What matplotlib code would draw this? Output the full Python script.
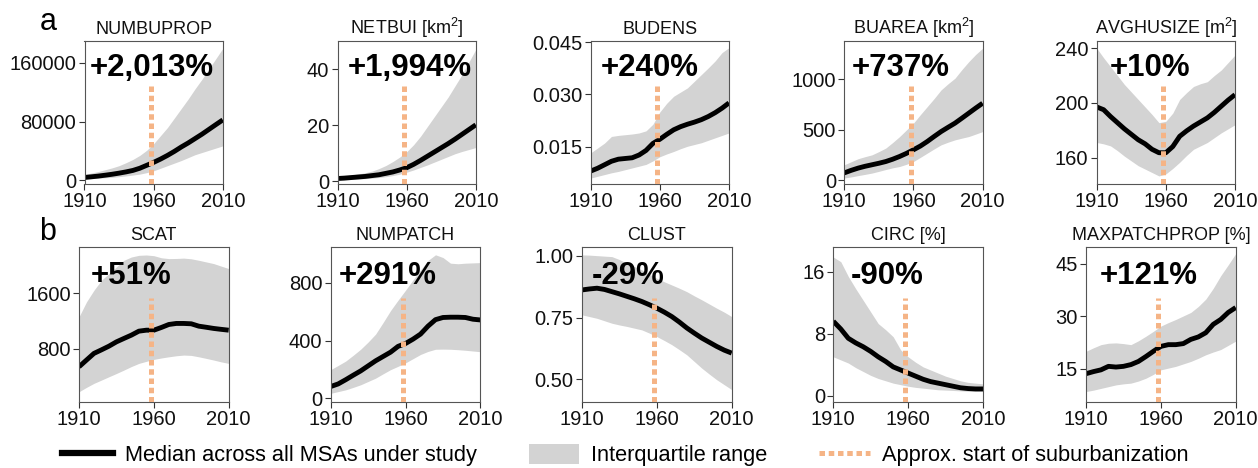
import matplotlib
matplotlib.use('Agg')
import matplotlib.pyplot as plt
from matplotlib.lines import Line2D
from matplotlib.patches import Patch
import numpy as np

plt.rcParams['font.family'] = ['Liberation Sans', 'DejaVu Sans']
plt.rcParams['mathtext.fontset'] = 'custom'
plt.rcParams['mathtext.rm'] = 'Liberation Sans'
plt.rcParams['mathtext.it'] = 'Liberation Sans:italic'

years = np.arange(1910, 2011, 5)
suburb_year = 1958

titles = ['NUMBUPROP', 'NETBUI [km$^2$]', 'BUDENS', 'BUAREA [km$^2$]', 'AVGHUSIZE [m$^2$]',
          'SCAT', 'NUMPATCH', 'CLUST', 'CIRC [%]', 'MAXPATCHPROP [%]']
changes = ['+2,013%', '+1,994%', '+240%', '+737%', '+10%',
           '+51%', '+291%', '-29%', '-90%', '+121%']

# median / lower quartile / upper quartile, every 5 years 1910-2010
numbuprop_med = [3900, 4800, 5800, 7000, 8300, 9800, 11500, 13500, 16500, 20500, 24500,
                 29000, 34000, 39500, 45500, 51000, 57000, 63000, 69500, 76000, 82400]
numbuprop_lo = [2000, 2500, 3000, 3500, 4000, 5000, 6000, 7200, 8500, 10500, 13000,
                16500, 20000, 23500, 27000, 31000, 35000, 38000, 41000, 44000, 47000]
numbuprop_hi = [8000, 10000, 12000, 14500, 17000, 20000, 24000, 28500, 34000, 41000, 50000,
                61000, 72000, 85000, 98000, 111000, 125000, 138000, 152000, 166000, 180000]

netbui_med = [0.96, 1.1, 1.3, 1.5, 1.7, 2.0, 2.3, 2.8, 3.3, 4.0, 4.8,
              6.0, 7.4, 8.9, 10.4, 11.9, 13.4, 15.0, 16.7, 18.4, 20.1]
netbui_lo = [0.5, 0.6, 0.7, 0.8, 0.9, 1.1, 1.3, 1.6, 2.0, 2.5, 3.2,
             4.0, 4.9, 5.8, 6.8, 7.8, 8.8, 9.8, 10.6, 11.3, 12.0]
netbui_hi = [1.5, 1.8, 2.2, 2.6, 3.0, 3.6, 4.5, 5.6, 7.0, 8.6, 10.5,
             13.0, 16.0, 19.5, 23.0, 26.5, 30.0, 34.0, 38.0, 42.5, 47.0]

budens_med = [0.0081, 0.0089, 0.0099, 0.0109, 0.0115, 0.0117, 0.0119, 0.0127, 0.0140, 0.0160, 0.0172,
              0.0186, 0.0199, 0.0208, 0.0215, 0.0221, 0.0228, 0.0237, 0.0248, 0.0261, 0.0276]
budens_lo = [0.0061, 0.0066, 0.0071, 0.0076, 0.0080, 0.0085, 0.0090, 0.0095, 0.0100, 0.0110, 0.0122,
             0.0130, 0.0137, 0.0145, 0.0152, 0.0157, 0.0162, 0.0169, 0.0176, 0.0183, 0.0190]
budens_hi = [0.0133, 0.0147, 0.0161, 0.0180, 0.0183, 0.0185, 0.0187, 0.0190, 0.0196, 0.0215, 0.0250,
             0.0275, 0.0295, 0.0307, 0.0319, 0.0338, 0.0357, 0.0376, 0.0396, 0.0420, 0.0434]

buarea_med = [75, 100, 122, 140, 155, 170, 187, 210, 237, 268, 303,
              340, 385, 435, 483, 525, 566, 615, 665, 715, 763]
buarea_lo = [24, 35, 48, 60, 73, 90, 108, 125, 138, 160, 187,
             228, 270, 312, 352, 378, 401, 418, 434, 458, 483]
buarea_hi = [155, 185, 215, 235, 253, 285, 320, 375, 434, 500, 566,
             650, 730, 810, 895, 955, 1010, 1095, 1174, 1245, 1306]

avghusize_med = [197, 195, 190, 185.5, 181, 177, 173, 170, 166, 163.5, 163.5,
                 168, 175.5, 179.5, 183, 186, 189, 193, 197.5, 202, 206]
avghusize_lo = [171, 170, 168.5, 165, 161, 157.5, 154, 151.5, 149, 146.5, 148,
                152, 156.5, 161.5, 166, 168.5, 171, 174.5, 178, 181, 184]
avghusize_hi = [240, 233, 226.5, 220, 213.5, 208, 202.5, 197, 191.5, 185.5, 186.5,
                192.5, 202.5, 207.5, 212, 214, 215.5, 220, 224, 229.5, 235]

scat_med = [541, 638, 734, 785, 838, 900, 949, 997, 1054, 1068, 1068,
            1107, 1150, 1165, 1165, 1160, 1126, 1110, 1093, 1080, 1068]
scat_lo = [182, 245, 303, 350, 398, 445, 494, 545, 590, 620, 648,
           668, 685, 700, 710, 705, 685, 662, 638, 612, 590]
scat_hi = [1260, 1475, 1643, 1787, 1883, 1978, 2074, 2121, 2145, 2150, 2140,
           2110, 2098, 2100, 2105, 2095, 2074, 2050, 2026, 1990, 1955]

numpatch_med = [82, 100, 129, 160, 190, 225, 260, 290, 320, 360, 380,
                410, 445, 500, 545, 560, 562, 562, 560, 548, 543]
numpatch_lo = [35, 47, 59, 76, 94, 117, 140, 170, 199, 222, 246,
               275, 304, 325, 340, 341, 340, 337, 333, 328, 323]
numpatch_hi = [199, 228, 258, 298, 340, 390, 445, 525, 608, 680, 749,
               820, 889, 955, 994, 975, 936, 932, 936, 938, 940]

clust_med = [0.862, 0.866, 0.869, 0.864, 0.855, 0.846, 0.836, 0.826, 0.815, 0.802, 0.788,
             0.772, 0.754, 0.732, 0.708, 0.687, 0.667, 0.650, 0.633, 0.618, 0.606]
clust_lo = [0.761, 0.754, 0.747, 0.737, 0.727, 0.720, 0.714, 0.707, 0.700, 0.687, 0.673,
            0.657, 0.640, 0.620, 0.599, 0.572, 0.545, 0.521, 0.498, 0.478, 0.458]
clust_hi = [1.004, 1.003, 1.001, 0.999, 0.997, 0.985, 0.970, 0.957, 0.943, 0.926, 0.909,
            0.895, 0.882, 0.869, 0.855, 0.838, 0.822, 0.805, 0.788, 0.772, 0.754]

circ_med = [9.6, 8.6, 7.4, 6.8, 6.3, 5.7, 5.0, 4.4, 3.7, 3.3, 2.9,
            2.5, 2.1, 1.8, 1.6, 1.4, 1.2, 1.0, 0.9, 0.85, 0.85]
circ_lo = [5.0, 4.6, 4.2, 3.6, 3.1, 2.6, 2.2, 1.9, 1.6, 1.4, 1.2,
           1.05, 0.95, 0.85, 0.74, 0.7, 0.65, 0.6, 0.55, 0.52, 0.52]
circ_hi = [17.9, 17.3, 15.4, 13.8, 12.3, 10.8, 9.3, 8.5, 7.6, 5.9, 5.0,
           4.3, 3.7, 3.3, 2.9, 2.5, 2.2, 1.9, 1.7, 1.6, 1.5]

maxpatch_med = [13.6, 14.2, 14.7, 15.7, 15.5, 15.7, 16.2, 17.1, 18.5, 20.0, 21.4,
                21.9, 21.9, 22.2, 23.4, 24.1, 25.3, 27.7, 29.1, 31.1, 32.5]
maxpatch_lo = [8.5, 8.9, 9.4, 9.9, 10.4, 10.7, 10.9, 11.5, 12.3, 13.4, 14.7,
               15.2, 15.7, 16.4, 17.1, 18.0, 19.0, 19.8, 20.5, 21.7, 22.9]
maxpatch_hi = [20.0, 21.0, 21.9, 22.3, 22.4, 22.2, 21.9, 23.0, 24.3, 25.7, 27.2,
               28.2, 29.1, 30.1, 31.1, 32.8, 34.9, 38.0, 41.6, 44.7, 47.9]

medians = [numbuprop_med, netbui_med, budens_med, buarea_med, avghusize_med,
           scat_med, numpatch_med, clust_med, circ_med, maxpatch_med]
lowers = [numbuprop_lo, netbui_lo, budens_lo, buarea_lo, avghusize_lo,
          scat_lo, numpatch_lo, clust_lo, circ_lo, maxpatch_lo]
uppers = [numbuprop_hi, netbui_hi, budens_hi, buarea_hi, avghusize_hi,
          scat_hi, numpatch_hi, clust_hi, circ_hi, maxpatch_hi]

yticks = [[0, 80000, 160000], [0, 20, 40], [0.015, 0.030, 0.045], [0, 500, 1000], [160, 200, 240],
          [800, 1600], [0, 400, 800], [0.50, 0.75, 1.00], [0, 8, 16], [15, 30, 45]]
ytick_fmt = ['{:.0f}', '{:.0f}', '{:.3f}', '{:.0f}', '{:.0f}',
             '{:.0f}', '{:.0f}', '{:.2f}', '{:.0f}', '{:.0f}']
ylims = [(-5000, 190000), (-1, 50), (0.0044, 0.0453), (-35, 1378), (140.6, 245.3),
         (39, 2265), (-23, 1048), (0.409, 1.036), (-0.8, 19.2), (5.6, 49.8)]

# layout (pixels of a 1258x468 canvas)
W, H = 1258, 468
lefts_a = [84.5, 337.5, 590.7, 844.3, 1096.7]
lefts_b = [79, 330.7, 582, 833.3, 1086]
label_x = [0.49, 0.525, 0.43, 0.41, 0.385, 0.35, 0.38, 0.31, 0.36, 0.42]

orange = '#f5b486'
grey = '#d3d3d3'

fig = plt.figure(figsize=(W / 100, H / 100), dpi=100)

for i in range(10):
    if i < 5:
        l, w, top, bot = lefts_a[i], 138.3, 41, 184
        vtop = 0.70
    else:
        l, w, top, bot = lefts_b[i - 5], 149.7, 247, 401.7
        vtop = 0.67
    ax = fig.add_axes([l / W, 1 - bot / H, w / W, (bot - top) / H])
    ax.fill_between(years, lowers[i], uppers[i], color=grey, lw=0, zorder=1)
    ax.plot(years, medians[i], color='black', lw=3.5, solid_capstyle='butt', zorder=2)
    ax.axvline(suburb_year, ymin=0, ymax=vtop, color=orange, lw=3.6,
               linestyle=(0, (1.1, 0.75)), zorder=3)
    ax.text(label_x[i], 0.81, changes[i], transform=ax.transAxes, ha='center', va='center',
            fontsize=22.5, fontweight='bold', zorder=4)
    ax.set_xlim(1910, 2010)
    ax.set_ylim(*ylims[i])
    ax.set_xticks([1910, 1960, 2010])
    ax.set_yticks(yticks[i])
    ax.set_yticklabels([ytick_fmt[i].format(v) for v in yticks[i]])
    ax.tick_params(labelsize=14.5, length=4, width=0.8, colors='#333333', labelcolor='#111111', pad=2)
    for s in ax.spines.values():
        s.set_color('#555555')
        s.set_linewidth(0.8)
    ax.set_title(titles[i], fontsize=13, pad=5, color='#111111')

fig.text(48 / W, 1 - 22 / H, 'a', fontsize=22, ha='center', va='center')
fig.text(48 / W, 1 - 232 / H, 'b', fontsize=22, ha='center', va='center')

handles = [Line2D([], [], color='black', lw=4.5),
           Patch(facecolor=grey, edgecolor='none'),
           Line2D([], [], color=orange, lw=3.6, linestyle=(0, (1.1, 0.75)))]
names = ['Median across all MSAs under study', 'Interquartile range', 'Approx. start of suburbanization']
fig.legend(handles, names, loc='center', bbox_to_anchor=(0.497, 0.027), ncol=3, frameon=False,
           fontsize=15.7, handlelength=2.3, handletextpad=0.55, columnspacing=2.4, handleheight=1.0)

fig.savefig('out.png', dpi=100)
